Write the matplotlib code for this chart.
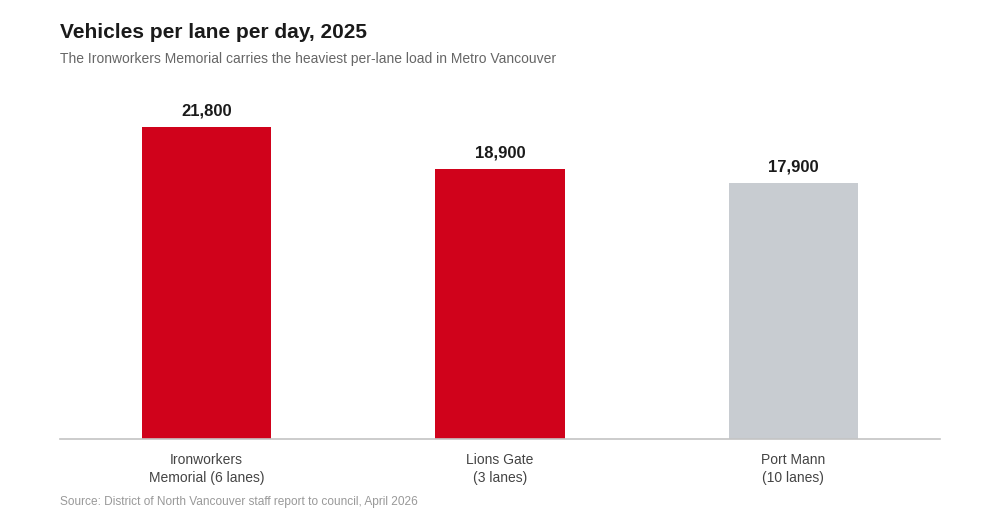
import matplotlib
matplotlib.use("Agg")
import matplotlib.pyplot as plt

plt.rcParams['font.family'] = ['Liberation Sans', 'DejaVu Sans']

bridges = ["Ironworkers\nMemorial (6 lanes)", "Lions Gate\n(3 lanes)", "Port Mann\n(10 lanes)"]
vehicles_per_lane = [21800, 18900, 17900]
bar_colors = ["#D0021B", "#D0021B", "#C8CCD1"]

fig = plt.figure(figsize=(10, 5.2), dpi=100)
ax = fig.add_axes([0.06, 1 - 439 / 520, 0.88, (439 - 80) / 520])

x = range(len(bridges))
ax.bar(x, vehicles_per_lane, width=0.44, color=bar_colors)
ax.set_xlim(-0.5, 2.5)
ax.set_ylim(0, 21800 * 359 / 312)

for i, v in enumerate(vehicles_per_lane):
    ax.annotate(f"{v:,}", (i, v), xytext=(0, 6), textcoords="offset points",
                ha="center", va="bottom", fontsize=12, fontweight="bold", color="#1a1a1a")

for s in ["top", "right", "left"]:
    ax.spines[s].set_visible(False)
ax.spines["bottom"].set_color("#C4C4C4")
ax.spines["bottom"].set_linewidth(1.2)
ax.set_yticks([])
ax.set_xticks(list(x))
ax.set_xticklabels(bridges, fontsize=10, color="#444444", linespacing=1.35)
ax.tick_params(axis="x", length=0, pad=10)

fig.text(0.06, 1 - 33 / 520, "Vehicles per lane per day, 2025", fontsize=15, fontweight="bold",
         color="#1a1a1a", va="center", ha="left")
fig.text(0.06, 1 - 59 / 520, "The Ironworkers Memorial carries the heaviest per-lane load in Metro Vancouver",
         fontsize=10, color="#666666", va="center", ha="left")
fig.text(0.06, 1 - 502 / 520, "Source: District of North Vancouver staff report to council, April 2026",
         fontsize=8.55, color="#999999", va="center", ha="left")

fig.savefig("out.png", dpi=100, facecolor="white")
